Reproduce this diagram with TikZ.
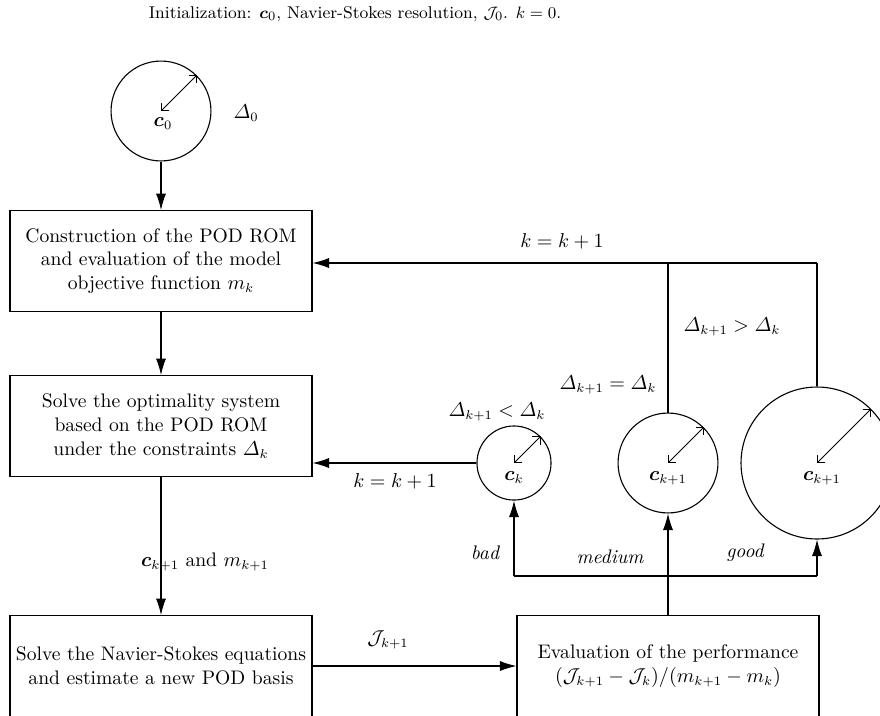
\documentclass[tikz,border=0pt]{standalone}
\usepackage{amsmath,amssymb,bm}
\usetikzlibrary{arrows.meta}
\begin{document}
\begin{tikzpicture}[x=0.5455pt,y=-0.5455pt,
  every node/.style={font=\fontsize{10.7}{13}\selectfont},
  pbox/.style={draw,line width=0.6pt,minimum width=164.7pt,minimum height=55pt,align=center,inner sep=0pt},
  circ/.style={draw,circle,line width=0.6pt,inner sep=0pt},
  arr/.style={line width=0.6pt,-{Latex[length=9pt,width=5.5pt]}},
  ln/.style={line width=0.6pt},
  rad/.style={line width=0.4pt,{Straight Barb[length=3pt]}-{Straight Barb[length=3pt]}},
  lbl/.style={inner sep=0pt},
  itl/.style={inner sep=0pt,font=\fontsize{10.7}{13}\selectfont\itshape}]
\useasboundingbox (0,0) rectangle (880,715);

\node[lbl,font=\fontsize{9.3}{11}\selectfont] (title) at (355,14) {Initialization: $\bm{c}_0$, Navier-Stokes resolution, $\mathcal{J}_0$. $k=0$.};

% initial circle
\node[circ,minimum size=54.5pt] (c0) at (161,111) {};
\draw[rad] (c0.center) -- (c0.45);
\node[lbl] (c0t) at (163,124) {$\bm{c}_0$};
\node[lbl] (d0) at (246,113) {$\varDelta_0$};

% boxes
\node[pbox] (b1) at (161,261) {Construction of the POD ROM\\and evaluation of the model\\objective function $m_k$};
\node[pbox] (b2) at (161,426) {Solve the optimality system\\based on the POD ROM\\under the constraints $\varDelta_k$};
\node[pbox] (b3) at (161,666) {Solve the Navier-Stokes equations\\and estimate a new POD basis};
\node[pbox] (b4) at (668,666) {Evaluation of the performance\\$(\mathcal{J}_{k+1}-\mathcal{J}_k)/(m_{k+1}-m_k)$};

% trust-region circles
\node[circ,minimum size=40.4pt] (ck) at (514,463) {};
\draw[rad] (ck.center) -- (ck.45);
\node[lbl] (ckt) at (514,478) {$\bm{c}_k$};
\node[circ,minimum size=54.5pt] (cm) at (668,463) {};
\draw[rad] (cm.center) -- (cm.45);
\node[lbl] (cmt) at (668,478) {$\bm{c}_{k+1}$};
\node[circ,minimum size=82.9pt] (cb) at (817,463) {};
\draw[rad] (cb.center) -- (cb.45);
\node[lbl] (cbt) at (822,478) {$\bm{c}_{k+1}$};

% main vertical flow
\draw[arr] (c0.south) -- (b1.north);
\draw[arr] (b1.south) -- (b2.north);
\draw[arr] (b2.south) -- (b3.north);
\node[lbl] (lc) at (205,562) {$\bm{c}_{k+1}$ and $m_{k+1}$};
\draw[arr] (b3.east) -- (b4.west);
\node[lbl] (lj) at (388,640) {$\mathcal{J}_{k+1}$};

% decision branches
\coordinate (jm) at (668,576);
\coordinate (jl) at (514,576);
\coordinate (jr) at (817,576);
\draw[ln] (b4.north) -- (jm);
\draw[ln] (jl) -- (jr);
\draw[arr] (jl) -- (ck.south);
\draw[arr] (jm) -- (cm.south);
\draw[arr] (jr) -- (cb.south);
\node[itl] (lbad) at (485,553) {bad};
\node[itl] (lmed) at (610,557) {medium};
\node[itl] (lgood) at (745,553) {good};

% feedback
\draw[arr] (ck.west) -- (b2.east |- ck.west);
\node[lbl] (lk1) at (395,481) {$k=k+1$};
\node[lbl] (lless) at (497,412) {$\varDelta_{k+1}<\varDelta_k$};
\coordinate (tm) at (668,263);
\coordinate (tr) at (817,263);
\draw[ln] (cm.north) -- (tm);
\draw[ln] (cb.north) -- (tr);
\draw[arr] (tr) -- (b1.east |- tr);
\node[lbl] (lk2) at (562,241) {$k=k+1$};
\node[lbl] (leq) at (608,385) {$\varDelta_{k+1}=\varDelta_k$};
\node[lbl] (lgt) at (732,327) {$\varDelta_{k+1}>\varDelta_k$};
\end{tikzpicture}
\end{document}
